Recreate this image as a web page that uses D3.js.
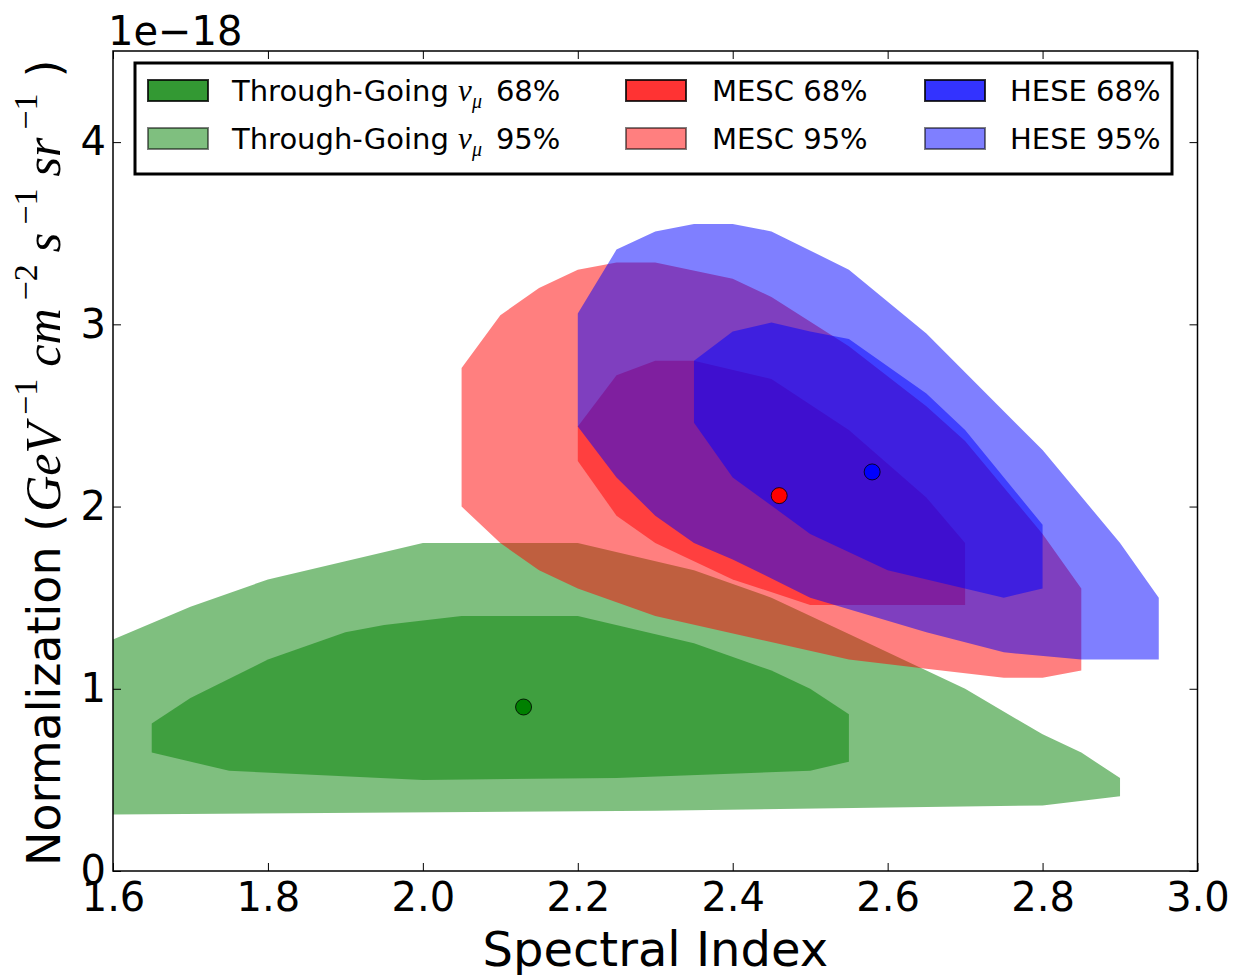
<!DOCTYPE html>
<html><head><meta charset="utf-8">
<script src="https://cdn.jsdelivr.net/npm/d3@7"></script>
<style>body{margin:0;background:#fff} svg{display:block}</style>
</head><body>
<script>
// ---------- data ----------
const xTicks = [1.6, 1.8, 2.0, 2.2, 2.4, 2.6, 2.8, 3.0];
const yTicks = [0, 1, 2, 3, 4];

const throughGoing95 = [[1.6,0.31],[1.6,1.27],[1.7,1.45],[1.8,1.60],[1.9,1.70],[2.0,1.80],[2.2,1.80],[2.35,1.65],[2.45,1.50],[2.55,1.30],[2.65,1.10],[2.7,1.0],[2.8,0.75],[2.85,0.65],[2.9,0.51],[2.9,0.41],[2.8,0.36],[2.3,0.33],[1.6,0.31]];
const throughGoing68 = [[1.65,0.81],[1.7,0.95],[1.8,1.16],[1.9,1.31],[1.95,1.35],[2.05,1.40],[2.2,1.40],[2.35,1.25],[2.45,1.10],[2.5,1.0],[2.55,0.86],[2.55,0.60],[2.5,0.55],[2.25,0.51],[2.0,0.50],[1.75,0.55],[1.65,0.65]];
const mesc95 = [[2.05,2.0],[2.05,2.76],[2.1,3.05],[2.15,3.2],[2.2,3.3],[2.25,3.34],[2.3,3.34],[2.4,3.25],[2.45,3.15],[2.55,2.88],[2.65,2.55],[2.7,2.36],[2.8,1.85],[2.85,1.55],[2.85,1.10],[2.8,1.06],[2.75,1.06],[2.65,1.11],[2.55,1.16],[2.3,1.40],[2.2,1.55],[2.15,1.65],[2.1,1.80]];
const mesc68 = [[2.2,2.25],[2.25,1.95],[2.3,1.80],[2.4,1.60],[2.5,1.46],[2.7,1.46],[2.7,1.80],[2.65,2.05],[2.55,2.42],[2.45,2.70],[2.35,2.80],[2.3,2.80],[2.25,2.72],[2.2,2.44]];
const hese95 = [[2.2,3.06],[2.25,3.41],[2.3,3.51],[2.35,3.55],[2.4,3.55],[2.45,3.51],[2.55,3.30],[2.65,2.95],[2.8,2.31],[2.9,1.80],[2.95,1.50],[2.95,1.16],[2.85,1.16],[2.75,1.20],[2.65,1.31],[2.5,1.50],[2.4,1.71],[2.35,1.80],[2.3,1.95],[2.25,2.16],[2.2,2.44]];
const hese68 = [[2.35,2.80],[2.35,2.46],[2.4,2.16],[2.5,1.85],[2.6,1.65],[2.75,1.50],[2.8,1.55],[2.8,1.90],[2.7,2.42],[2.65,2.62],[2.55,2.92],[2.5,2.96],[2.45,3.01],[2.4,2.96]];

const bestFitNames = ["Through-Going", "MESC", "HESE"];
const bestFitIndex = [2.13, 2.46, 2.58];
const bestFitNorm = [0.90, 2.06, 2.19];
const seriesColors = ["#008000", "#ff0000", "#0000ff"];

const legendNames = ["Through-Going", "MESC", "HESE"];
const legendLevels = ["68%", "95%"];

// ---------- layout ----------
const W = 1237, H = 975;
const L = 113, R = 1197.5, T = 51, B = 871;
const svg = d3.select("body").append("svg").attr("width", W).attr("height", H)
  .style("font-family", "'DejaVu Sans', sans-serif");

const x = d3.scaleLinear().domain([1.6, 3.0]).range([L, R]);
const y = d3.scaleLinear().domain([0, 4.5]).range([B, T]);

svg.append("defs").append("clipPath").attr("id", "clip")
  .append("rect").attr("x", L).attr("y", T).attr("width", R - L).attr("height", B - T);

const plot = svg.append("g").attr("clip-path", "url(#clip)");
const line = d3.line().x(d => x(d[0])).y(d => y(d[1]));

const regions = [
  [throughGoing95, 0], [throughGoing68, 0],
  [mesc95, 1], [mesc68, 1],
  [hese95, 2], [hese68, 2]
];
regions.forEach(([pts, ci]) => {
  plot.append("path").attr("d", line(pts) + "Z")
    .attr("fill", seriesColors[ci]).attr("fill-opacity", 0.5).attr("stroke", "none");
});

bestFitIndex.forEach((v, i) => {
  plot.append("circle").attr("cx", x(v)).attr("cy", y(bestFitNorm[i])).attr("r", 8)
    .attr("fill", seriesColors[i]).attr("stroke", "#000").attr("stroke-width", 0.8);
});

// ---------- axes ----------
const fmt = d3.format(".1f");
const gx = svg.append("g").attr("transform", `translate(0,${B})`)
  .call(d3.axisBottom(x).tickValues(xTicks).tickFormat(fmt).tickSizeInner(-8).tickSizeOuter(0).tickPadding(11.5));
const gxt = svg.append("g").attr("transform", `translate(0,${T})`)
  .call(d3.axisTop(x).tickValues(xTicks).tickFormat("").tickSizeInner(-8).tickSizeOuter(0));
const gy = svg.append("g").attr("transform", `translate(${L},0)`)
  .call(d3.axisLeft(y).tickValues(yTicks).tickFormat(d3.format("d")).tickSizeInner(-8).tickSizeOuter(0).tickPadding(7));
const gyr = svg.append("g").attr("transform", `translate(${R},0)`)
  .call(d3.axisRight(y).tickValues(yTicks).tickFormat("").tickSizeInner(-8).tickSizeOuter(0));
[gx, gxt, gy, gyr].forEach(g => {
  g.select(".domain").remove();
  g.selectAll(".tick line").attr("stroke", "#000").attr("stroke-width", 1);
  g.selectAll("text").attr("font-size", 40).attr("font-family", "'DejaVu Sans', sans-serif").attr("fill", "#000");
});

svg.append("rect").attr("x", L).attr("y", T).attr("width", R - L).attr("height", B - T)
  .attr("fill", "none").attr("stroke", "#000").attr("stroke-width", 1.5);

// offset text
svg.append("text").attr("x", 108).attr("y", 45).attr("font-size", 40).text("1e\u221218");

// x label
svg.append("text").attr("x", (L + R) / 2).attr("y", 966).attr("text-anchor", "middle")
  .attr("font-size", 48).text("Spectral Index");

// y label
const mathFont = "'Liberation Serif', 'Times New Roman', serif";
const yl = svg.append("text").attr("transform", `translate(60,866) rotate(-90)`)
  .attr("text-anchor", "start").attr("font-size", 46);
yl.append("tspan").text("Normalization (");
const unitParts = [["GeV", "\u22121"], ["cm", "\u22122"], ["s", "\u22121"], ["sr", "\u22121"]];
unitParts.forEach(([b, e], i) => {
  yl.append("tspan").attr("font-family", mathFont).attr("font-style", "italic").attr("font-size", 50)
    .attr("dx", i === 0 ? 2 : 12).attr("dy", i === 0 ? 0 : 23).text(b);
  yl.append("tspan").attr("font-family", mathFont).attr("font-size", 34)
    .attr("dx", 8).attr("dy", -23).text(e);
});
yl.append("tspan").attr("dx", 16).attr("dy", 23).attr("font-size", 46).text(")");

// ---------- legend ----------
const lg = svg.append("g");
lg.append("rect").attr("x", 135).attr("y", 63).attr("width", 1172 - 135).attr("height", 174 - 63)
  .attr("fill", "#fff").attr("stroke", "#000").attr("stroke-width", 3);
const colSwatchX = [148, 626, 925];
const colTextX = [232, 712, 1010];
const rowSwatchY = [80, 128];
const rowBase = [101, 149];
legendNames.forEach((name, ci) => {
  legendLevels.forEach((lev, ri) => {
    const op = ri === 0 ? 0.8 : 0.5;
    lg.append("rect").attr("x", colSwatchX[ci]).attr("y", rowSwatchY[ri]).attr("width", 60).attr("height", 21)
      .attr("fill", seriesColors[ci]).attr("fill-opacity", op)
      .attr("stroke", "#000").attr("stroke-opacity", op).attr("stroke-width", 2);
    const t = lg.append("text").attr("x", colTextX[ci]).attr("y", rowBase[ri]).attr("font-size", 29);
    if (ci === 0) {
      t.append("tspan").text(name + " ");
      t.append("tspan").attr("font-family", mathFont).attr("font-style", "italic").attr("font-size", 31).text("\u03bd");
      t.append("tspan").attr("font-family", mathFont).attr("font-style", "italic").attr("font-size", 20).attr("dy", 7).text("\u03bc");
      t.append("tspan").attr("dy", -7).attr("dx", 14).text(lev);
    } else {
      t.text(name + " " + lev);
    }
  });
});
</script>
</body></html>
